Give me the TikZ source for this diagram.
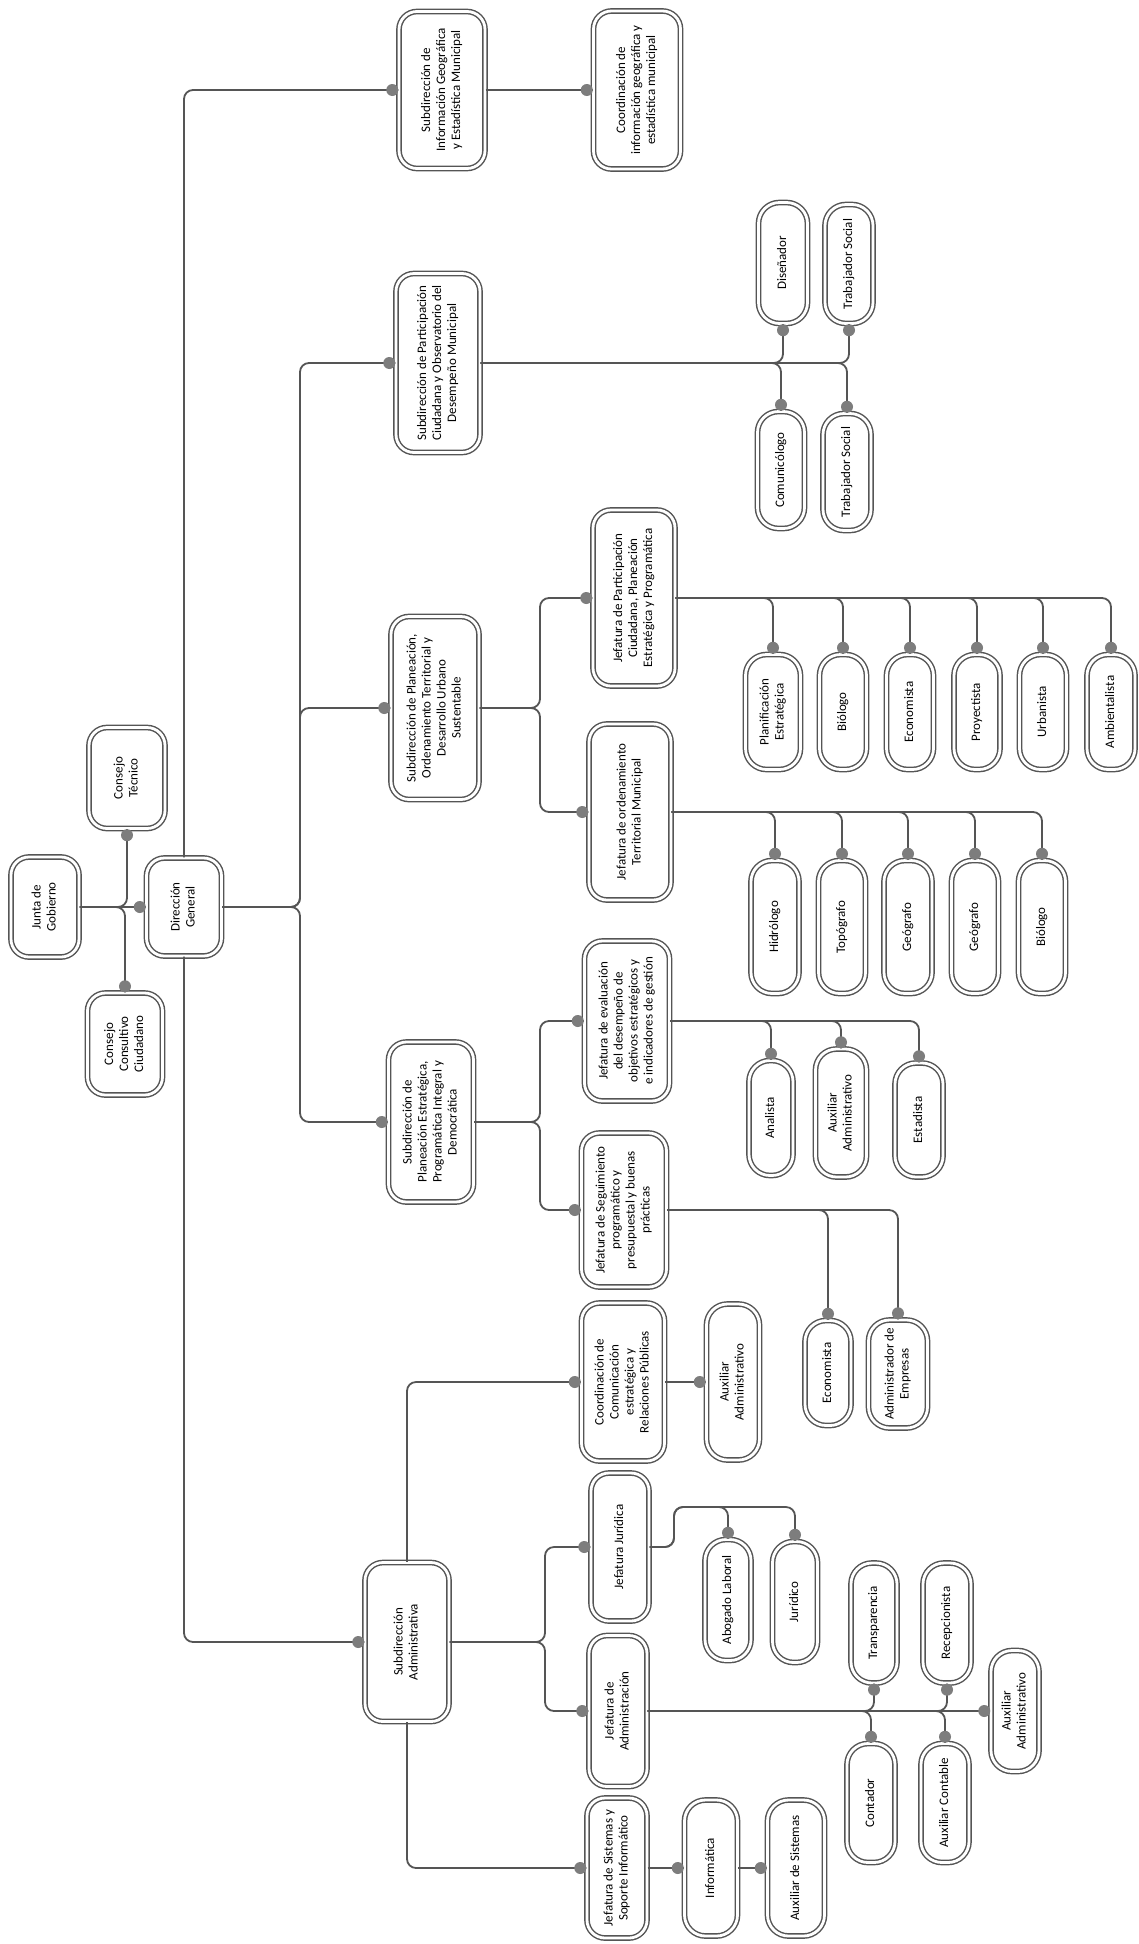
\documentclass[tikz,border=0pt]{standalone}
\usepackage{fontspec}
\setmainfont{Carlito}
\usetikzlibrary{calc}
\definecolor{gris}{RGB}{85,85,85}
\definecolor{punto}{RGB}{125,125,125}
\newcommand{\girado}[1]{\rotatebox{90}{\begin{tabular}{@{}c@{}}#1\end{tabular}}}
\tikzset{
	caja/.style={draw=gris, double=white, double distance=2.8pt, line width=1.45pt, rounded corners=18pt, inner sep=0pt, text=black, font=\fontsize{13}{15}\selectfont},
	puesto/.style={caja, rounded corners=21pt},
	tam/.style 2 args={minimum width=#1pt, minimum height=#2pt},
	enlace/.style={draw=gris, line width=1.8pt, rounded corners=9pt}
}
\begin{document}
\begin{tikzpicture}[x=1pt,y=-1pt]
	\fill[white] (0,0) rectangle (1139,1944);
	\useasboundingbox (0,0) rectangle (1139,1944);
	\node[caja, tam={68}{100}] (junta) at (45,907) {\girado{Junta de\\Gobierno}};
	\node[caja, tam={76}{101}] (ctec) at (127,778) {\girado{Consejo\\Técnico}};
	\node[caja, tam={75}{98}] (dg) at (184,907) {\girado{Dirección\\General}};
	\node[caja, tam={75}{102}] (ccc) at (125,1044) {\girado{Consejo\\Consultivo\\Ciudadano}};
	\node[caja, tam={86}{157}] (subgeo) at (442,90) {\girado{Subdirección de\\Información Geográfica\\y Estadística Municipal}};
	\node[caja, tam={87}{158}] (coordgeo) at (637,90) {\girado{Coordinación de\\información geográfica y\\estadística municipal}};
	\node[caja, tam={84}{179}] (subpart) at (438,363) {\girado{Subdirección de Participación\\Ciudadana y Observatorio del\\Desempeño Municipal}};
	\node[puesto, tam={49}{121}] (disen) at (783,263) {\girado{Diseñador}};
	\node[puesto, tam={48}{119}] (trabA) at (849,264) {\girado{Trabajador Social}};
	\node[puesto, tam={47}{117}] (comun) at (781,470) {\girado{Comunicólogo}};
	\node[puesto, tam={48}{117}] (trabB) at (847,472) {\girado{Trabajador Social}};
	\node[caja, tam={88}{183}] (subplan) at (435,708) {\girado{Subdirección de Planeación,\\Ordenamiento Territorial y\\Desarrollo Urbano\\Sustentable}};
	\node[caja, tam={82}{176}] (jefpart) at (634,598) {\girado{Jefatura de Participación\\Ciudadana, Planeación\\Estratégica y Programática}};
	\node[puesto, tam={55}{115}] (planif) at (773,712) {\girado{Planificación\\Estratégica}};
	\node[puesto, tam={47}{115}] (biologoA) at (843,712) {\girado{Biólogo}};
	\node[puesto, tam={47}{115}] (economA) at (910,712) {\girado{Economista}};
	\node[puesto, tam={46}{115}] (proyec) at (977,712) {\girado{Proyectista}};
	\node[puesto, tam={47}{115}] (urban) at (1043,712) {\girado{Urbanista}};
	\node[puesto, tam={48}{115}] (ambient) at (1111,712) {\girado{Ambientalista}};
	\node[caja, tam={82}{176}] (jeford) at (630,812) {\girado{Jefatura de ordenamiento\\Territorial Municipal}};
	\node[puesto, tam={48}{133}] (hidro) at (775,927) {\girado{Hidrólogo}};
	\node[puesto, tam={47}{133}] (topo) at (842,927) {\girado{Topógrafo}};
	\node[puesto, tam={48}{133}] (geoA) at (908,927) {\girado{Geógrafo}};
	\node[puesto, tam={47}{133}] (geoB) at (975,927) {\girado{Geógrafo}};
	\node[puesto, tam={47}{133}] (biologoB) at (1042,927) {\girado{Biólogo}};
	\node[caja, tam={85}{160}] (subpe) at (431,1122) {\girado{Subdirección de\\Planeación Estratégica,\\Programática Integral y\\Democrática}};
	\node[caja, tam={85}{160}] (jefeval) at (627,1021) {\girado{Jefatura de evaluación\\del desempeño de\\objetivos estratégicos y\\e indicadores de gestión}};
	\node[puesto, tam={44}{115}] (analista) at (771,1118) {\girado{Analista}};
	\node[puesto, tam={51}{128}] (auxA) at (841,1113) {\girado{Auxiliar\\Administrativo}};
	\node[puesto, tam={48}{114}] (estad) at (919,1120) {\girado{Estadista}};
	\node[caja, tam={85}{154}] (jefseg) at (624,1210) {\girado{Jefatura de Seguimiento\\programático y\\presupuestal y buenas\\prácticas}};
	\node[puesto, tam={46}{105}] (econB) at (828,1373) {\girado{Economista}};
	\node[puesto, tam={59}{108}] (admemp) at (898,1374) {\girado{Administrador de\\Empresas}};
	\node[caja, tam={83}{158}] (coordcom) at (623,1382) {\girado{Coordinación de\\Comunicación\\estratégica y\\Relaciones Públicas}};
	\node[puesto, tam={53}{156}] (auxB) at (733,1382) {\girado{Auxiliar\\Administrativo}};
	\node[caja, tam={84}{159}] (subadm) at (407,1642) {\girado{Subdirección\\Administrativa}};
	\node[caja, tam={58}{148}] (jefjur) at (620,1547) {\girado{Jefatura Jurídica}};
	\node[puesto, tam={46}{121}] (abog) at (728,1600) {\girado{Abogado Laboral}};
	\node[puesto, tam={45}{121}] (jurid) at (795,1602) {\girado{Jurídico}};
	\node[caja, tam={58}{151}] (jefadm) at (618,1711) {\girado{Jefatura de\\Administración}};
	\node[puesto, tam={46}{120}] (transp) at (874,1623) {\girado{Transparencia}};
	\node[puesto, tam={48}{120}] (recep) at (947,1623) {\girado{Recepcionista}};
	\node[puesto, tam={48}{119}] (conta) at (871,1803) {\girado{Contador}};
	\node[puesto, tam={48}{119}] (auxcont) at (945,1803) {\girado{Auxiliar Contable}};
	\node[puesto, tam={48}{121}] (auxC) at (1015,1711) {\girado{Auxiliar\\Administrativo}};
	\node[caja, tam={60}{140}] (jefsis) at (617,1868) {\girado{Jefatura de Sistemas y\\Soporte Informático}};
	\node[puesto, tam={53}{136}] (inform) at (711,1868) {\girado{Informática}};
	\node[puesto, tam={57}{136}] (auxsis) at (796,1868) {\girado{Auxiliar de Sistemas}};
	\coordinate (dgbus) at (300,907);
	\coordinate (planbus) at (540,708);
	\coordinate (pebus) at (540,1122);
	\coordinate (admbus) at (545,1642);
	\coordinate (jurbus) at (674,1507);
	\draw[enlace] (junta.east) -- (dg.west);
	\draw[enlace] (junta.east) -| (ctec.south);
	\draw[enlace] (junta.east) -| (ccc.north);
	\draw[enlace] (dg.north) |- (subgeo.west);
	\draw[enlace] (dg.south) |- (subadm.west);
	\draw[enlace] (dg.east) -- (dgbus) |- (subpart.west);
	\draw[enlace] (dg.east) -- (dgbus) |- (subplan.west);
	\draw[enlace] (dg.east) -- (dgbus) |- (subpe.west);
	\draw[enlace] (subgeo.east) -- (coordgeo.west);
	\foreach \h in {disen,trabA} \draw[enlace] (subpart.east) -| (\h.south);
	\foreach \h in {comun,trabB} \draw[enlace] (subpart.east) -| (\h.north);
	\draw[enlace] (subplan.east) -- (planbus) |- (jefpart.west);
	\draw[enlace] (subplan.east) -- (planbus) |- (jeford.west);
	\foreach \h in {planif,biologoA,economA,proyec,urban,ambient} \draw[enlace] (jefpart.east) -| (\h.north);
	\foreach \h in {hidro,topo,geoA,geoB,biologoB} \draw[enlace] (jeford.east) -| (\h.north);
	\draw[enlace] (subpe.east) -- (pebus) |- (jefeval.west);
	\draw[enlace] (subpe.east) -- (pebus) |- (jefseg.west);
	\foreach \h in {analista,auxA,estad} \draw[enlace] (jefeval.east) -| (\h.north);
	\foreach \h in {econB,admemp} \draw[enlace] (jefseg.east) -| (\h.north);
	\draw[enlace] (subadm.north) |- (coordcom.west);
	\draw[enlace] (coordcom.east) -- (auxB.west);
	\draw[enlace] (subadm.east) -- (admbus) |- (jefjur.west);
	\draw[enlace] (subadm.east) -- (admbus) |- (jefadm.west);
	\draw[enlace] (subadm.south) |- (jefsis.west);
	\foreach \h in {abog,jurid} \draw[enlace] (jefjur.east) -| (jurbus) -| (\h.north);
	\foreach \h in {transp,recep} \draw[enlace] (jefadm.east) -| (\h.south);
	\foreach \h in {conta,auxcont} \draw[enlace] (jefadm.east) -| (\h.north);
	\draw[enlace] (jefadm.east) -- (auxC.west);
	\draw[enlace] (jefsis.east) -- (inform.west);
	\draw[enlace] (inform.east) -- (auxsis.west);
	\foreach \n/\a in {ctec/south,ccc/north,dg/west,subgeo/west,coordgeo/west,subpart/west,disen/south,trabA/south,comun/north,trabB/north,subplan/west,jefpart/west,jeford/west,planif/north,biologoA/north,economA/north,proyec/north,urban/north,ambient/north,hidro/north,topo/north,geoA/north,geoB/north,biologoB/north,subpe/west,jefeval/west,jefseg/west,analista/north,auxA/north,estad/north,econB/north,admemp/north,coordcom/west,auxB/west,subadm/west,jefjur/west,jefadm/west,abog/north,jurid/north,transp/south,recep/south,conta/north,auxcont/north,auxC/west,jefsis/west,inform/west,auxsis/west} \fill[punto] ($(\n.\a)!-6pt!(\n.center)$) circle (6pt);
\end{tikzpicture}
\end{document}
